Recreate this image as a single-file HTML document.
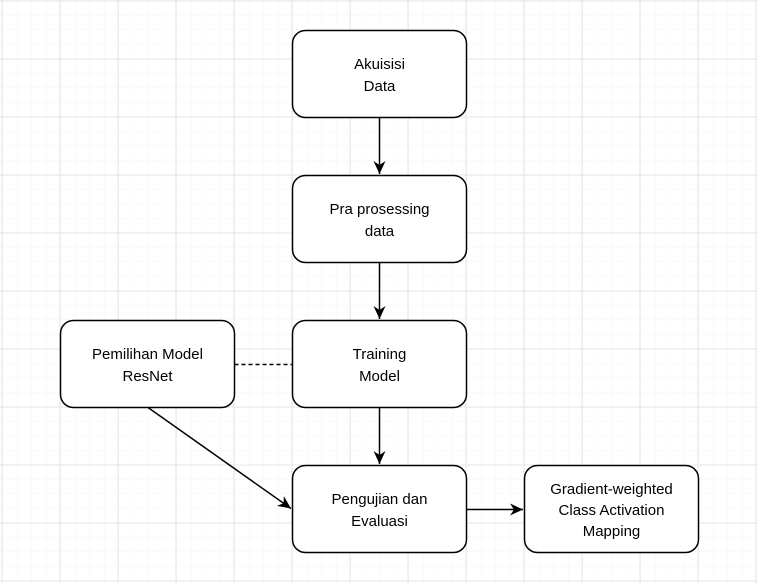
<!DOCTYPE html>
<html><head><style>
html,body{margin:0;padding:0;background:#fff;}
svg{display:block;}
text{font-family:"Liberation Sans",sans-serif;font-size:15px;fill:#000;text-anchor:middle;}
</style></head><body>
<svg width="758" height="583" xmlns="http://www.w3.org/2000/svg">
<defs>
<pattern id="minor" x="1.5" y="0.5" width="14.5" height="14.5" patternUnits="userSpaceOnUse">
<path d="M14.5 0V14.5M0 14.5H14.5" fill="none" stroke="#f5f5f5" stroke-width="1"/>
</pattern>
<pattern id="major" x="1.5" y="0.5" width="58" height="58" patternUnits="userSpaceOnUse">
<rect width="58" height="58" fill="url(#minor)"/>
<path d="M0.5 0V58M0 0.5H58" fill="none" stroke="#e6e6e6" stroke-width="1"/>
</pattern>
<marker id="ar" markerWidth="14" markerHeight="14" refX="13" refY="7" orient="auto" markerUnits="userSpaceOnUse">
<path d="M0 1L13 7L0 13L4 7Z" fill="#000"/>
</marker>
</defs>
<rect width="758" height="583" fill="url(#major)"/>
<g fill="#fff" stroke="#000" stroke-width="1.5">
<rect x="292.5" y="30.5" width="174" height="87" rx="13"/>
<rect x="292.5" y="175.5" width="174" height="87" rx="13"/>
<rect x="292.5" y="320.5" width="174" height="87" rx="13"/>
<rect x="292.5" y="465.5" width="174" height="87" rx="13"/>
<rect x="60.5" y="320.5" width="174" height="87" rx="13"/>
<rect x="524.5" y="465.5" width="174" height="87" rx="13"/>
</g>
<g stroke="#000" stroke-width="1.5" fill="none">
<path d="M379.5 117.5V174" marker-end="url(#ar)"/>
<path d="M379.5 262.5V319" marker-end="url(#ar)"/>
<path d="M379.5 407.5V464" marker-end="url(#ar)"/>
<path d="M466.5 509.5H523" marker-end="url(#ar)"/>
<path d="M148 407.5L291 508.5" marker-end="url(#ar)"/>
<path d="M234.5 364.5H292" stroke-dasharray="4,3"/>
</g>
<text x="379.5" y="69">Akuisisi</text><text x="379.5" y="91">Data</text>
<text x="379.5" y="214">Pra prosessing</text><text x="379.5" y="236">data</text>
<text x="379.5" y="359">Training</text><text x="379.5" y="381">Model</text>
<text x="379.5" y="504">Pengujian dan</text><text x="379.5" y="526">Evaluasi</text>
<text x="147.5" y="359">Pemilihan Model</text><text x="147.5" y="381">ResNet</text>
<text x="611.5" y="494">Gradient-weighted</text><text x="611.5" y="515">Class Activation</text><text x="611.5" y="536">Mapping</text>
</svg>
</body></html>
